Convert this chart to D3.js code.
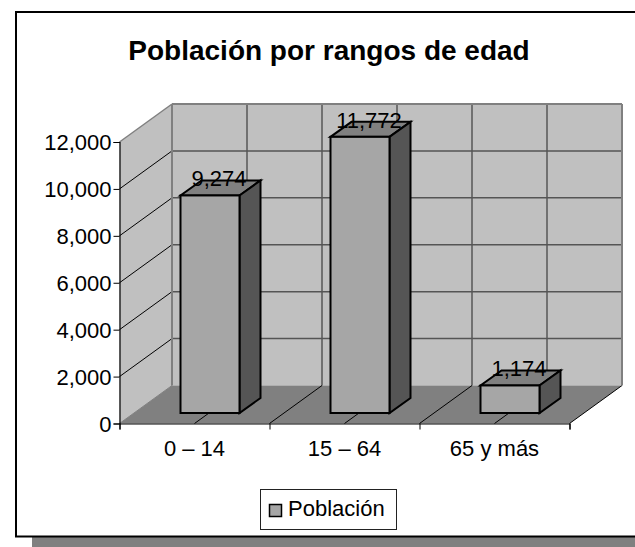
<!DOCTYPE html>
<html><head><meta charset="utf-8">
<script src="https://cdn.jsdelivr.net/npm/d3@7"></script>
<style>html,body{margin:0;padding:0;background:#fff}svg{display:block}text{font-family:"Liberation Sans",Arial,sans-serif;fill:#000}</style>
</head><body><svg id="c" width="635" height="547"></svg>
<script>
const categories = ["0 – 14","15 – 64","65 y más"];
const seriesName = "Población";
const values = [9274,11772,1174];
const yTicks = [0,2000,4000,6000,8000,10000,12000];
const titleText = "Población por rangos de edad";

const svg = d3.select("#c");
const y = d3.scaleLinear().domain([0,12000]).range([423.5,142]);
const x = d3.scaleBand().domain(categories).range([119.5,569.5]);
const depth = {dx:52.5, dy:-38};
const barDepth = {dx:21, dy:-15};
const barLift = -10.5, barOffset = 61, barW = 59;
const fs = 22;
const fmt = d3.format(",");
const xL = x.range()[0], xR = x.range()[1];
const halfSteps = d3.range(0,7).map(i=>xL + i*x.step()/2);

// shadow and frame
svg.append("rect").attr("x",32).attr("y",30).attr("width",603).attr("height",517).attr("fill","#808080");
svg.append("rect").attr("x",16).attr("y",12).attr("width",624).attr("height",524.5).attr("fill","#fff").attr("stroke","#000").attr("stroke-width",2);

svg.append("text").attr("x",329).attr("y",60).attr("text-anchor","middle")
  .attr("font-size",28).attr("font-weight","bold").text(titleText);

const P = pts => pts.map(p=>p.join(",")).join(" ");
// walls
const y0=y(0), yT=y(12000);
svg.append("polygon").attr("fill","#c0c0c0")
  .attr("points",P([[xL+depth.dx,yT+depth.dy],[xR+depth.dx,yT+depth.dy],[xR+depth.dx,y0+depth.dy],[xL+depth.dx,y0+depth.dy]]));
svg.append("polygon").attr("fill","#c0c0c0")
  .attr("points",P([[xL,yT],[xL+depth.dx,yT+depth.dy],[xL+depth.dx,y0+depth.dy],[xL,y0]]));
svg.append("polygon").attr("fill","#808080")
  .attr("points",P([[xL,y0],[xR,y0],[xR+depth.dx,y0+depth.dy],[xL+depth.dx,y0+depth.dy]]));

// vertical back-wall gridlines and floor lines
halfSteps.slice(1,6).forEach(v=>{
  svg.append("line").attr("x1",v+depth.dx).attr("x2",v+depth.dx).attr("y1",yT+depth.dy).attr("y2",y0+depth.dy).attr("stroke","#222").attr("stroke-width",1);
});
halfSteps.slice(1).forEach(v=>{
  svg.append("line").attr("x1",v).attr("y1",y0).attr("x2",v+depth.dx).attr("y2",y0+depth.dy).attr("stroke","#000").attr("stroke-width",1);
});
// horizontal gridlines
yTicks.slice(1).forEach(t=>{
  const yy=y(t);
  const top=t===12000;
  svg.append("line").attr("x1",xL).attr("y1",yy).attr("x2",xL+depth.dx).attr("y2",yy+depth.dy).attr("stroke",top?"#808080":"#000").attr("stroke-width",top?1.5:1);
  svg.append("line").attr("x1",xL+depth.dx).attr("x2",xR+depth.dx).attr("y1",yy+depth.dy).attr("y2",yy+depth.dy).attr("stroke",top?"#808080":"#555").attr("stroke-width",top?2:1.5);
});
// wall edges
svg.append("path").attr("fill","none").attr("stroke","#808080").attr("stroke-width",2)
  .attr("d",`M${xL+depth.dx},${yT+depth.dy}V${y0+depth.dy}`);
svg.append("path").attr("fill","none").attr("stroke","#808080").attr("stroke-width",2)
  .attr("d",`M${xR+depth.dx},${yT+depth.dy}V${y0+depth.dy}`);
svg.append("path").attr("fill","none").attr("stroke","#808080").attr("stroke-width",1)
  .attr("d",`M${xL},${y0}L${xL+depth.dx},${y0+depth.dy}`);

// axes
const yAxis = d3.axisLeft(y).tickValues(yTicks).tickFormat(fmt).tickSize(6).tickPadding(2);
const gy = svg.append("g").attr("transform",`translate(${xL},0)`).call(yAxis);
const tickX = d3.range(0,4).map(i=>xL+i*x.step());
const xAxis = d3.axisBottom(d3.scaleLinear().domain([xL,xR]).range([xL,xR])).tickValues(tickX).tickFormat("").tickSize(6);
const gx = svg.append("g").attr("transform",`translate(0,${y0})`).call(xAxis);
[gy,gx].forEach(g=>{g.select(".domain").attr("stroke","#000").attr("stroke-width",1.2);g.selectAll(".tick line").attr("stroke","#000");});
gy.selectAll("text").attr("font-size",fs).attr("fill","#000").attr("font-family",'"Liberation Sans",Arial,sans-serif').attr("dy","0.35em");

svg.append("g").selectAll("text").data(categories).join("text")
  .attr("x",d=>x(d)+x.bandwidth()/2).attr("y",455.5).attr("text-anchor","middle").attr("font-size",fs).text(d=>d);

// bars
const g = svg.append("g").attr("stroke","#000").attr("stroke-width",2).attr("stroke-linejoin","miter");
values.forEach((v,i)=>{
  const X0=x(categories[i])+barOffset, X1=X0+barW;
  const Yb=y0+barLift, Yt=y(v)+barLift;
  const d=barDepth;
  g.append("polygon").attr("fill","#808080").attr("points",P([[X0,Yt],[X1,Yt],[X1+d.dx,Yt+d.dy],[X0+d.dx,Yt+d.dy]]));
  g.append("polygon").attr("fill","#555555").attr("points",P([[X1,Yt],[X1+d.dx,Yt+d.dy],[X1+d.dx,Yb+d.dy],[X1,Yb]]));
  g.append("rect").attr("fill","#a6a6a6").attr("x",X0).attr("y",Yt).attr("width",barW).attr("height",Yb-Yt);
  svg.append("text").attr("x",(X0+X1)/2+9).attr("y",Yt+d.dy+6).attr("text-anchor","middle").attr("font-size",fs).text(fmt(v));
});

// legend
svg.append("rect").attr("x",260.5).attr("y",489.5).attr("width",136).attr("height",40).attr("fill","#fff").attr("stroke","#222");
svg.append("rect").attr("x",269.5).attr("y",504.5).attr("width",12).attr("height",12).attr("fill","#a6a6a6").attr("stroke","#000").attr("stroke-width",1.5);
svg.append("text").attr("x",288).attr("y",515.5).attr("font-size",fs).text(seriesName);
</script></body></html>
